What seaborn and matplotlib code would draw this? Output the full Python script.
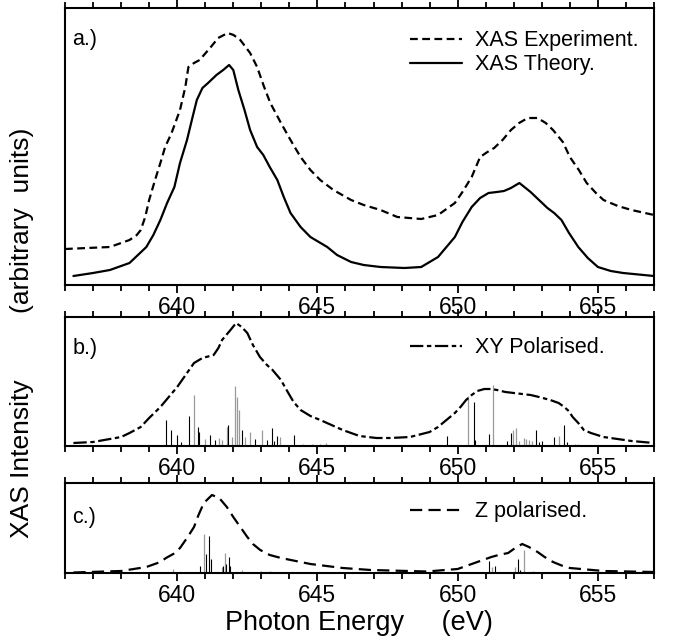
import numpy as np
import matplotlib
matplotlib.use("Agg")
import matplotlib.pyplot as plt
import seaborn as sns

# === Données (unités arbitraires) ===
# a.) spectre XAS expérimental / théorique
e_exp = [636.0, 636.8, 637.6, 638.3, 638.56, 638.7, 638.86, 639.0, 639.21, 639.4, 639.57, 639.8,
         639.93, 640.1, 640.29, 640.4, 640.6, 640.8, 641.2, 641.46, 641.8, 642.01, 642.25, 642.6,
         642.85, 643.1, 643.32, 643.7, 644.04, 644.4, 644.75, 645.1, 645.57, 646.2, 646.65,
         647.25, 647.85, 648.7, 649.3, 649.9, 650.17, 650.5, 650.8, 651.06, 651.3, 651.6, 651.9,
         652.19, 652.5, 652.85, 653.14, 653.4, 653.75, 654.0, 654.32, 654.6, 654.93, 655.2,
         655.71, 656.2, 657.0]
i_exp = [36, 37, 38, 45, 50, 55, 68, 85, 105, 122, 138, 152,
         162, 175, 198, 218, 222, 225, 238, 247, 252, 250, 245, 232,
         218, 198, 182, 162, 145, 128, 115, 105, 95, 85, 80,
         75, 68, 66, 70, 82, 93, 108, 128, 133, 137, 145, 155,
         162, 167, 167, 162, 155, 143, 128, 115, 102, 92, 85,
         79, 75, 70]

e_th = [636.3, 637.0, 637.6, 638.3, 638.9, 639.15, 639.4, 639.64, 639.9, 640.1, 640.35, 640.54,
        640.7, 640.9, 641.1, 641.4, 641.64, 641.85, 642.0, 642.18, 642.4, 642.6, 642.85, 643.07,
        643.3, 643.57, 643.8, 644.04, 644.4, 644.75, 645.35, 645.7, 646.2, 646.65, 647.25,
        648.1, 648.7, 649.3, 649.57, 649.9, 650.17, 650.5, 650.8, 651.1, 651.4, 651.65, 651.9,
        652.2, 652.6, 652.9, 653.2, 653.44, 653.7, 653.97, 654.3, 654.64, 655.0, 655.46,
        655.9, 657.0]
i_th = [9, 12, 15, 22, 38, 50, 65, 82, 98, 122, 145, 167,
        185, 197, 202, 210, 215, 220, 215, 195, 175, 155, 138, 130,
        118, 105, 88, 72, 58, 48, 38, 30, 23, 20, 18,
        17, 18, 28, 37, 48, 63, 78, 87, 92, 93, 94, 97,
        102, 93, 85, 77, 72, 65, 52, 38, 27, 18, 14,
        12, 9]

# b.) polarisation XY
e_xy = [636.3, 637.0, 638.0, 638.3, 638.7, 639.0, 639.4, 639.7, 640.0, 640.3, 640.6, 640.9,
        641.3, 641.47, 641.6, 641.9, 642.1, 642.3, 642.5, 642.7, 642.95, 643.2, 643.4, 643.7,
        643.9, 644.15, 644.4, 644.75, 645.1, 645.9, 646.5, 647.1, 647.6, 648.3, 649.0, 649.3,
        649.6, 649.9, 650.1, 650.3, 650.5, 650.7, 650.95, 651.2, 651.4, 651.7, 652.0, 652.3,
        652.6, 652.9, 653.3, 653.6, 653.8, 653.96, 654.1, 654.3, 654.5, 654.75, 655.2, 656.2,
        657.0]
i_xy = [3, 4, 9, 13, 19, 28, 39, 49, 59, 71, 83, 88,
        91, 98, 106, 116, 123, 119, 113, 101, 89, 81, 76, 66,
        56, 44, 36, 30, 26, 16, 10, 8, 8, 9, 14, 19,
        26, 33, 39, 46, 51, 55, 57, 57, 56, 54, 53, 52,
        51, 49, 46, 43, 39, 35, 29, 23, 16, 13, 9, 5,
        3]

# raies (énergie, hauteur, gris=1 / noir=0)
raies_xy_e = [639.6, 639.78, 640.0, 640.15, 640.42, 640.6, 640.73, 640.78, 641.0, 641.18, 641.35,
              641.5, 641.6, 641.77, 641.82, 641.95, 642.07, 642.15, 642.22, 642.3, 642.43, 642.6,
              642.78, 643.02, 643.2, 643.38, 643.45, 643.55, 643.65, 644.15, 644.5, 644.8, 645.1,
              645.3, 649.63, 650.38, 650.58, 650.63, 651.12, 651.26, 651.75, 651.89, 651.96,
              652.07, 652.2, 652.35, 652.45, 652.55, 652.65, 652.8, 652.9, 653.0, 653.44, 653.6,
              653.8, 653.9, 654.2, 654.3]
raies_xy_h = [26, 16, 11, 4, 30, 51, 19, 14, 7, 11, 6,
              8, 6, 19, 21, 9, 60, 49, 36, 16, 9, 14,
              7, 16, 6, 18, 5, 10, 9, 11, 2, 2, 2,
              3, 10, 50, 44, 6, 12, 61, 5, 13, 16,
              18, 5, 8, 7, 6, 5, 16, 4, 5, 9, 10,
              21, 4, 2, 2]
raies_xy_g = [0, 0, 0, 0, 0, 1, 0, 0, 1, 0, 0,
              1, 1, 1, 0, 1, 1, 1, 1, 0, 1, 1,
              0, 1, 0, 0, 0, 0, 1, 0, 1, 1, 1,
              1, 0, 1, 0, 0, 0, 1, 0, 0, 1,
              1, 1, 1, 1, 1, 1, 0, 0, 0, 0, 1,
              0, 0, 1, 1]

# c.) polarisation Z
e_z = [636.3, 638.0, 638.9, 639.4, 639.6, 639.86, 640.1, 640.35, 640.6, 640.76, 640.95, 641.24,
       641.5, 641.77, 642.0, 642.25, 642.5, 642.7, 642.96, 643.3, 643.7, 644.75, 645.9, 646.9,
       648.9, 650.0, 650.6, 650.9, 651.2, 651.46, 651.8, 652.0, 652.3, 652.54, 652.85, 653.1,
       653.4, 653.75, 654.0, 655.2, 657.0]
i_z = [0.5, 2, 6, 11, 15, 19, 25, 35, 46, 58, 70, 78,
       75, 66, 56, 46, 36, 29, 23, 18, 15, 9, 5, 3,
       1.5, 4, 10, 13, 16, 18, 20, 24, 29, 26, 21, 16,
       11, 7, 5, 2, 1]

raies_z_e = [639.85, 640.8, 640.94, 641.04, 641.14, 641.22, 641.6, 641.65, 641.71, 641.75, 641.83,
             641.87, 642.3, 643.0, 643.3, 651.12, 651.22, 651.32, 652.05, 652.15, 652.22, 652.35,
             652.7]
raies_z_h = [4, 7, 39, 19, 37, 14, 6, 7, 20, 9, 16,
             7, 3, 2, 2, 12, 6, 7, 6, 14, 3, 23,
             2]
raies_z_g = [1, 0, 1, 0, 0, 0, 1, 0, 1, 0, 0,
             0, 1, 1, 1, 0, 1, 0, 1, 0, 0, 1,
             1]

# === Style ===
sns.set_theme(style="ticks")
plt.rcParams["font.family"] = ["Liberation Sans", "DejaVu Sans"]
plt.rcParams["axes.linewidth"] = 1.5
plt.rcParams["text.color"] = "black"
plt.rcParams["axes.labelcolor"] = "black"
plt.rcParams["xtick.color"] = "black"
plt.rcParams["ytick.color"] = "black"

fig = plt.figure(figsize=(6.73, 6.43), dpi=100)
W, H = 673, 643


def add_axes(top, bottom, left=65, right=654):
    return fig.add_axes([left / W, 1 - bottom / H, (right - left) / W, (bottom - top) / H])


ax_a = add_axes(8, 285)
ax_b = add_axes(317, 446)
ax_c = add_axes(483, 573)


def raies(ax, e, h, g):
    e, h, g = np.array(e), np.array(h), np.array(g)
    ax.vlines(e[g == 1], 0, h[g == 1], color="0.6", lw=0.9)
    ax.vlines(e[g == 0], 0, h[g == 0], color="black", lw=0.8)


# a.)
sns.lineplot(x=e_exp, y=i_exp, ax=ax_a, color="black", lw=1.6, linestyle=(0, (3.5, 2)),
             label="XAS Experiment.")
sns.lineplot(x=e_th, y=i_th, ax=ax_a, color="black", lw=1.6, label="XAS Theory.")
ax_a.set_ylim(0, 277)

# b.)
raies(ax_b, raies_xy_e, raies_xy_h, raies_xy_g)
sns.lineplot(x=e_xy, y=i_xy, ax=ax_b, color="black", lw=1.6, linestyle=(0, (6, 1.6, 2, 1.6)),
             label="XY Polarised.")
ax_b.set_ylim(0, 129)

# c.)
raies(ax_c, raies_z_e, raies_z_h, raies_z_g)
sns.lineplot(x=e_z, y=i_z, ax=ax_c, color="black", lw=1.6, linestyle=(0, (5.5, 2.8)),
             label="Z polarised.")
ax_c.set_ylim(0, 90)

for ax, lab, ly, legy in [(ax_a, "a.)", 0.888, 0.838), (ax_b, "b.)", 0.752, 0.76),
                          (ax_c, "c.)", 0.62, 0.68)]:
    ax.set_xlim(636, 657)
    ax.set_xticks([640, 645, 650, 655])
    ax.set_xticks(np.arange(636, 658, 1), minor=True)
    ax.set_yticks([])
    ax.tick_params(axis="x", which="both", direction="out", top=True, bottom=True,
                   labelsize=16.5, width=1.3, colors="black", pad=2)
    ax.tick_params(axis="x", which="major", length=6)
    ax.tick_params(axis="x", which="minor", length=4)
    for s in ax.spines.values():
        s.set_visible(True)
        s.set_color("black")
    ax.set_xlabel("")
    ax.set_ylabel("")
    ax.text(0.012, ly, lab, transform=ax.transAxes, fontsize=15.5, va="center", ha="left")
    ax.legend(loc="center left", bbox_to_anchor=(0.586, legy), frameon=False, fontsize=15.5,
              handlelength=2.4, handletextpad=0.6, borderpad=0, borderaxespad=0,
              labelspacing=0.15)

fig.text(359 / W, 1 - 623 / H, "Photon Energy     (eV)", fontsize=19.5, ha="center", va="center")
fig.text(22 / W, 1 - 333 / H, "XAS Intensity         (arbitrary  units)", fontsize=19,
         rotation=90, ha="center", va="center")

fig.savefig("out.png", dpi=100)
